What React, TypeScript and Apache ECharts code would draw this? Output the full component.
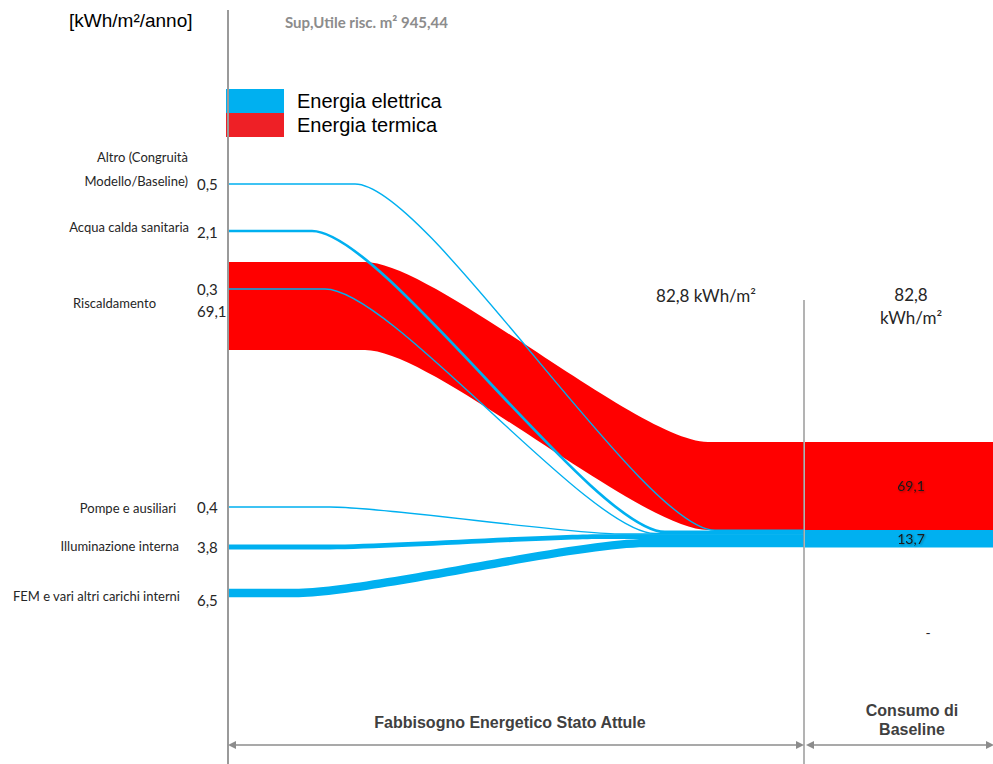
import React, { useEffect, useRef } from 'react';
import * as echarts from 'echarts';

// ---------- data ----------
const categories = [
  'Altro (Congruità\nModello/Baseline)',
  'Acqua calda sanitaria',
  'Riscaldamento',
  'Pompe e ausiliari',
  'Illuminazione interna',
  'FEM e vari altri carichi interni',
];
const electricValues = [0.5, 2.1, 0.3, 0.4, 3.8, 6.5];
const thermalValues: (number | null)[] = [null, null, 69.1, null, null, null];
const baselineNames = ['Energia termica', 'Energia elettrica'];
const baselineValues = [69.1, 13.7];
const seriesNames = ['Energia elettrica', 'Energia termica'];
const stageLabels = ['Fabbisogno Energetico Stato Attule', 'Consumo di\nBaseline'];
const unitLabel = '[kWh/m²/anno]';
const surfaceLabel = 'Sup,Utile risc. m² 945,44';
const unitSuffix = 'kWh/m²';

// ---------- layout (positions only) ----------
const W = 993;
const H = 764;
const GRID_LEFT = 228;
const Y_MAX = 600; // axis units over the full page height
const X_MAX = 100;
const PX_X = (W - GRID_LEFT) / X_MAX;
const ux = (px: number) => (px - GRID_LEFT) / PX_X;
const uy = (px: number) => (px / H) * Y_MAX;

const X_STAGE = ux(804);
const X_BAR_END = ux(1018);
const X_TOTAL_LABEL = ux(706);
const STACK_TOP = uy(442);
const CURVE_K = 0.2;
const electricCenter = [184, 231, 289, 507, 547, 593].map(uy);
const thermalCenter = [null, null, 306, null, null, null].map((v) => (v == null ? null : uy(v)));
const electricCurve = [[355, 715], [312, 665], [325, 655], [330, 622], [330, 600], [295, 645]].map((p) => p.map(ux));
const thermalCurve = [null, null, [365, 708], null, null, null].map((p) => (p == null ? null : p.map(ux)));
const labelRightPx = [188, 189, 156, 176, 179, 180];
const labelDyPx = [-15, -4, -3, 1, -1, 3];
const elValueDyPx = [0, 1, 0, 0, 0, 7];
const thValueDyPx = [0, 0, 5, 0, 0, 0];
const VALUE_X = 197;

const BLUE = '#00B0F0';
const RED = '#FF0000';
const LEGEND_RED = '#EE2026';
const GRAY = '#9a9a9a';
const TEXT = '#262626';
const LABEL_FONT = 'Lato, "Open Sans", sans-serif';
const fmt = (v: number) => v.toFixed(1).replace('.', ',');

export default function App() {
  const ref = useRef<HTMLDivElement>(null);

  useEffect(() => {
    const chart = echarts.init(ref.current!, null, { renderer: 'svg' });

    const thermalTotal = thermalValues.reduce((s: number, v) => s + (v ?? 0), 0);
    let thTarget = STACK_TOP;
    let elTarget = STACK_TOP + thermalTotal;
    const thermalData: number[][] = [];
    const electricData: number[][] = [];
    thermalValues.forEach((v, i) => {
      if (v == null) return;
      const cv = thermalCurve[i] as number[];
      thermalData.push([v, thermalCenter[i] as number, thTarget, i, cv[0], cv[1]]);
      thTarget += v;
    });
    electricValues.forEach((v, i) => {
      const cv = electricCurve[i];
      electricData.push([v, electricCenter[i], elTarget, i, cv[0], cv[1]]);
      elTarget += v;
    });

    const flowRenderer = (color: string) => (params: any, api: any) => {
      const v = api.value(0) as number;
      const c = api.value(1) as number;
      const t = api.value(2) as number;
      const p0 = api.coord([0, c]);
      const h = api.size([0, v])[1];
      const yT = api.coord([0, t])[1];
      const x0 = p0[0] + 1;
      const xa = api.coord([api.value(4), 0])[0];
      const xb = api.coord([api.value(5), 0])[0];
      const x1 = api.coord([X_STAGE, 0])[0];
      const c1 = xa + CURVE_K * (xb - xa);
      const c2 = xb - CURVE_K * (xb - xa);
      if (h < 3) {
        const ys = p0[1];
        const ye = yT + h / 2;
        return {
          type: 'path',
          shape: { pathData: `M${x0} ${ys}L${xa} ${ys}C${c1} ${ys} ${c2} ${ye} ${xb} ${ye}L${x1} ${ye}` },
          style: { fill: 'none', stroke: color, lineWidth: Math.max(h, 1.4) },
        };
      }
      const s0 = p0[1] - h / 2;
      const s1 = p0[1] + h / 2;
      const e0 = yT;
      const e1 = yT + h;
      return {
        type: 'path',
        shape: {
          pathData: `M${x0} ${s0}L${xa} ${s0}C${c1} ${s0} ${c2} ${e0} ${xb} ${e0}L${x1} ${e0}L${x1} ${e1}L${xb} ${e1}C${c2} ${e1} ${c1} ${s1} ${xa} ${s1}L${x0} ${s1}Z`,
        },
        style: { fill: color, stroke: null },
      };
    };

    const rowRenderer = (params: any, api: any) => {
      const i = api.value(0) as number;
      const children: any[] = [];
      const th = thermalCenter[i];
      const anchor = th != null ? th : electricCenter[i];
      const ay = api.coord([0, anchor])[1];
      children.push({
        type: 'text',
        x: labelRightPx[i],
        y: ay + labelDyPx[i],
        style: {
          text: categories[i],
          fill: TEXT,
          fontSize: 13,
          fontFamily: LABEL_FONT,
          align: 'right',
          verticalAlign: 'middle',
          lineHeight: 24,
        },
      });
      const ey = api.coord([0, electricCenter[i]])[1];
      children.push({
        type: 'text',
        x: VALUE_X,
        y: ey + elValueDyPx[i],
        style: {
          text: fmt(electricValues[i]),
          fill: TEXT,
          fontSize: 15,
          fontFamily: LABEL_FONT,
          align: 'left',
          verticalAlign: 'middle',
        },
      });
      const tv = thermalValues[i];
      if (tv != null && th != null) {
        const ty = api.coord([0, th])[1];
        children.push({
          type: 'text',
          x: VALUE_X,
          y: ty + thValueDyPx[i],
          style: {
            text: fmt(tv),
            fill: TEXT,
            fontSize: 15,
            fontFamily: LABEL_FONT,
            align: 'left',
            verticalAlign: 'middle',
          },
        });
      }
      return { type: 'group', children };
    };

    const total = baselineValues.reduce((s, v) => s + v, 0);
    const baselineData = baselineValues.map((v, i) => {
      const top = STACK_TOP + baselineValues.slice(0, i).reduce((s, x) => s + x, 0);
      return [v, top, i];
    });

    const baselineRenderer = (params: any, api: any) => {
      const v = api.value(0) as number;
      const top = api.value(1) as number;
      const i = api.value(2) as number;
      const p0 = api.coord([X_STAGE, top]);
      const p1 = api.coord([X_BAR_END, top + v]);
      const color = baselineNames[i] === 'Energia termica' ? RED : BLUE;
      const cx = (p0[0] + p1[0]) / 2;
      const children: any[] = [
        {
          type: 'rect',
          shape: { x: p0[0] + 1, y: p0[1], width: p1[0] - p0[0], height: p1[1] - p0[1] },
          style: { fill: color },
        },
        {
          type: 'text',
          x: cx,
          y: (p0[1] + p1[1]) / 2,
          style: {
            text: fmt(v),
            fill: '#1a1a1a',
            fontSize: 14,
            fontFamily: LABEL_FONT,
            align: 'center',
            verticalAlign: 'middle',
            textShadowColor: 'rgba(0,0,0,0.35)',
            textShadowBlur: 2,
            textShadowOffsetX: 1,
            textShadowOffsetY: 1,
          },
        },
      ];
      if (i === 0) {
        const lx = api.coord([X_TOTAL_LABEL, top])[0];
        children.push({
          type: 'text',
          x: lx,
          y: p0[1] - 147,
          style: {
            text: `${fmt(total)} ${unitSuffix}`,
            fill: TEXT,
            fontSize: 17,
            fontFamily: LABEL_FONT,
            align: 'center',
            verticalAlign: 'middle',
          },
        });
        children.push({
          type: 'text',
          x: cx,
          y: p0[1] - 136,
          style: {
            text: `${fmt(total)}\n${unitSuffix}`,
            fill: TEXT,
            fontSize: 17,
            lineHeight: 23,
            fontFamily: LABEL_FONT,
            align: 'center',
            verticalAlign: 'middle',
          },
        });
      }
      return { type: 'group', children };
    };

    const arrowHead = (tipX: number, y: number, dir: number) => ({
      type: 'polygon',
      z: 20,
      shape: { points: [[tipX, y], [tipX - dir * 8, y - 4], [tipX - dir * 8, y + 4]] },
      style: { fill: '#8c8c8c' },
    });
    const xStagePx = GRID_LEFT + X_STAGE * PX_X;

    const option: any = {
      animation: false,
      backgroundColor: '#ffffff',
      grid: { left: GRID_LEFT, right: 0, top: 0, bottom: 0, containLabel: false },
      xAxis: { type: 'value', min: 0, max: X_MAX, show: false },
      yAxis: { type: 'value', min: 0, max: Y_MAX, inverse: true, show: false },
      legend: {
        data: seriesNames,
        orient: 'vertical',
        left: 226,
        top: 89,
        padding: 0,
        itemGap: 0,
        itemWidth: 58,
        itemHeight: 24,
        icon: 'rect',
        selectedMode: false,
        textStyle: {
          fontSize: 20,
          fontFamily: '"Liberation Sans", Arial, sans-serif',
          color: '#000',
          padding: [0, 0, 0, 8],
        },
      },
      series: [
        {
          name: 'Energia termica',
          type: 'custom',
          silent: true,
          itemStyle: { color: LEGEND_RED },
          renderItem: flowRenderer(RED),
          data: thermalData,
          z: 2,
        },
        {
          name: 'Energia elettrica',
          type: 'custom',
          silent: true,
          itemStyle: { color: BLUE },
          renderItem: flowRenderer(BLUE),
          data: electricData,
          z: 3,
        },
        {
          name: 'Consumo di Baseline',
          type: 'custom',
          silent: true,
          renderItem: baselineRenderer,
          data: baselineData,
          z: 2,
        },
        {
          name: 'labels',
          type: 'custom',
          silent: true,
          renderItem: rowRenderer,
          data: categories.map((_, i) => [i]),
          z: 4,
        },
      ],
      graphic: [
        { type: 'line', z: 20, shape: { x1: GRID_LEFT, y1: 10, x2: GRID_LEFT, y2: H }, style: { stroke: GRAY, lineWidth: 2 } },
        { type: 'line', z: 20, shape: { x1: xStagePx, y1: 300, x2: xStagePx, y2: H }, style: { stroke: GRAY, lineWidth: 1.5 } },
        { type: 'line', z: 20, shape: { x1: GRID_LEFT + 4, y1: 745, x2: xStagePx - 4, y2: 745 }, style: { stroke: '#8c8c8c', lineWidth: 1.5 } },
        { type: 'line', z: 20, shape: { x1: xStagePx + 4, y1: 745, x2: W - 2, y2: 745 }, style: { stroke: '#8c8c8c', lineWidth: 1.5 } },
        arrowHead(GRID_LEFT, 745, -1),
        arrowHead(xStagePx, 745, 1),
        arrowHead(xStagePx + 2, 745, -1),
        arrowHead(W + 1, 745, 1),
        {
          type: 'text', z: 20, x: 69, y: 20,
          style: { text: unitLabel, fill: '#000', fontSize: 19, fontFamily: '"Liberation Sans", Arial, sans-serif', verticalAlign: 'middle' },
        },
        {
          type: 'text', z: 20, x: 285, y: 22,
          style: { text: surfaceLabel, fill: '#8c8c8c', fontSize: 15, fontWeight: 'bold', fontFamily: LABEL_FONT, verticalAlign: 'middle' },
        },
        {
          type: 'text', z: 20, x: 510, y: 722,
          style: { text: stageLabels[0], fill: '#404040', fontSize: 16, fontWeight: 'bold', fontFamily: '"Liberation Sans Narrow", "Arial Narrow", "Liberation Sans", sans-serif', align: 'center', verticalAlign: 'middle' },
        },
        {
          type: 'text', z: 20, x: 912, y: 720,
          style: { text: stageLabels[1], fill: '#404040', fontSize: 16, lineHeight: 19, fontWeight: 'bold', fontFamily: '"Liberation Sans Narrow", "Arial Narrow", "Liberation Sans", sans-serif', align: 'center', verticalAlign: 'middle' },
        },
        {
          type: 'text', z: 20, x: 928, y: 632,
          style: { text: '-', fill: TEXT, fontSize: 14, fontFamily: LABEL_FONT, align: 'center', verticalAlign: 'middle' },
        },
      ],
    };

    chart.setOption(option);
    return () => chart.dispose();
  }, []);

  return <div ref={ref} style={{ position: 'fixed', left: 0, top: 0, width: W, height: H }} />;
}
